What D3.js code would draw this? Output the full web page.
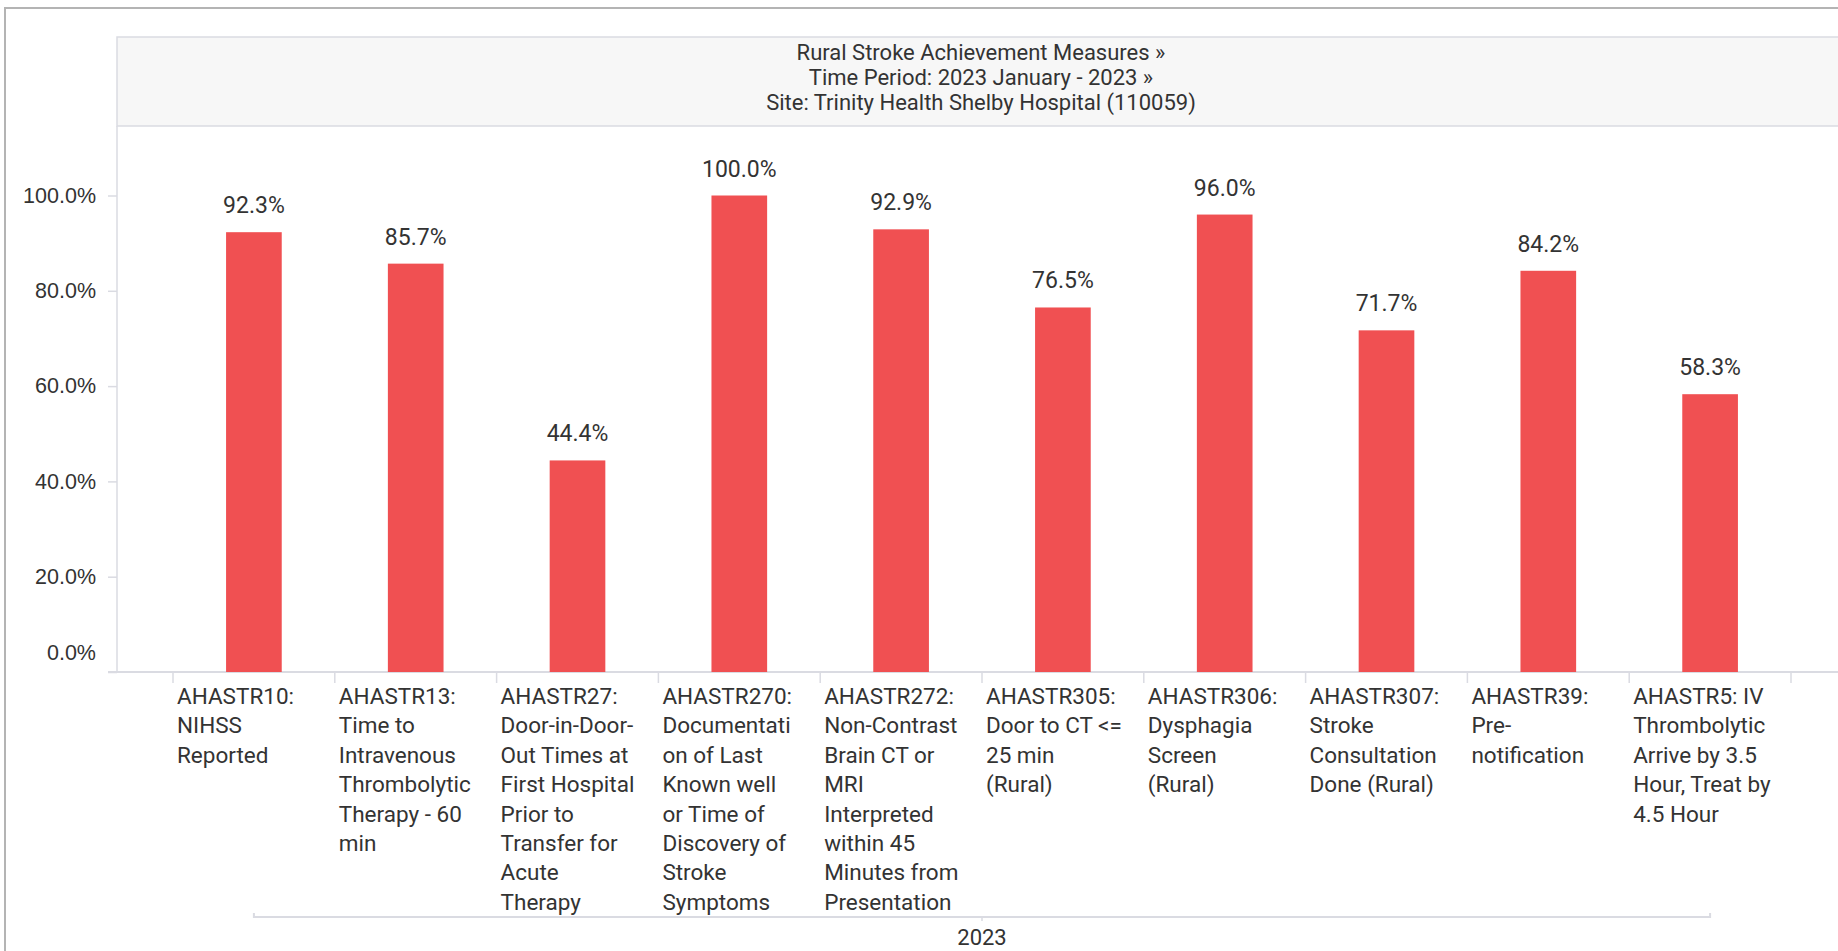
<!DOCTYPE html>
<html>
<head>
<meta charset="utf-8">
<script src="https://cdn.jsdelivr.net/npm/d3@7"></script>
<style>
  body { margin: 0; background: #fff; }
  svg { display: block; font-family: Roboto, "Noto Sans", sans-serif; }
</style>
</head>
<body>
<div id="chart"></div>
<script>
var categories = [
  "AHASTR10:\nNIHSS\nReported",
  "AHASTR13:\nTime to\nIntravenous\nThrombolytic\nTherapy - 60\nmin",
  "AHASTR27:\nDoor-in-Door-\nOut Times at\nFirst Hospital\nPrior to\nTransfer for\nAcute\nTherapy",
  "AHASTR270:\nDocumentati\non of Last\nKnown well\nor Time of\nDiscovery of\nStroke\nSymptoms",
  "AHASTR272:\nNon-Contrast\nBrain CT or\nMRI\nInterpreted\nwithin 45\nMinutes from\nPresentation",
  "AHASTR305:\nDoor to CT <=\n25 min\n(Rural)",
  "AHASTR306:\nDysphagia\nScreen\n(Rural)",
  "AHASTR307:\nStroke\nConsultation\nDone (Rural)",
  "AHASTR39:\nPre-\nnotification",
  "AHASTR5: IV\nThrombolytic\nArrive by 3.5\nHour, Treat by\n4.5 Hour"
];
var values = [92.3, 85.7, 44.4, 100.0, 92.9, 76.5, 96.0, 71.7, 84.2, 58.3];
var yTicks = [0, 20, 40, 60, 80, 100];
var titleLines = [
  "Rural Stroke Achievement Measures \u00bb",
  "Time Period: 2023 January - 2023 \u00bb",
  "Site: Trinity Health Shelby Hospital (110059)"
];
var groupLabel = "2023";

var W = 1838, H = 951;
var m = { left: 117, top: 126, right: 1847, bottom: 672 };
var axisColor = "#dadbe2", textColor = "#333";

var svg = d3.select("#chart").append("svg")
    .attr("width", W)
    .attr("height", H);

// outer panel frame
svg.append("rect")
  .attr("x", 5).attr("y", 8)
  .attr("width", 2000).attr("height", 1200)
  .attr("fill", "none")
  .attr("stroke", "#b4b4b4")
  .attr("stroke-width", 2);

// title box
svg.append("rect")
  .attr("x", m.left).attr("y", 37)
  .attr("width", m.right - m.left).attr("height", m.top - 37)
  .attr("fill", "#f7f7f7")
  .attr("stroke", axisColor)
  .attr("stroke-width", 1.5);

var cx = (m.left + m.right) / 2 - 1;
svg.selectAll("text.title").data(titleLines).enter().append("text")
  .attr("class", "title")
  .attr("x", cx)
  .attr("y", function(d, i) { return 60 + i * 25; })
  .attr("text-anchor", "middle")
  .attr("font-size", 22)
  .attr("fill", textColor)
  .text(function(d) { return d; });

var x = d3.scaleBand()
  .domain(d3.range(categories.length))
  .range([173, 1791])
  .paddingInner(0.656)
  .paddingOuter(0.328);

var y = d3.scaleLinear()
  .domain([0, 100])
  .range([m.bottom, 195.5]);

var step = x.step();
var x0 = x.range()[0];

// y axis
var yAxis = d3.axisLeft(y)
  .tickValues(yTicks)
  .tickSize(9)
  .tickPadding(12)
  .tickFormat(function(d) { return d3.format(".1f")(d) + "%"; });

var gy = svg.append("g")
  .attr("transform", "translate(" + m.left + ",0)")
  .call(yAxis);
gy.select(".domain").remove();
gy.selectAll("line").attr("stroke", axisColor).attr("stroke-width", 1.5);
gy.selectAll("text")
  .attr("font-size", 21.5)
  .attr("fill", textColor)
  .attr("font-family", null);
// zero label sits above the baseline
gy.selectAll(".tick").filter(function(d) { return d === 0; })
  .select("text").attr("dy", "-0.6em");

svg.append("line")
  .attr("x1", m.left).attr("x2", m.left)
  .attr("y1", m.top).attr("y2", m.bottom)
  .attr("stroke", axisColor).attr("stroke-width", 1.5);

svg.append("line")
  .attr("x1", 108).attr("x2", m.right)
  .attr("y1", m.bottom).attr("y2", m.bottom)
  .attr("stroke", axisColor).attr("stroke-width", 2);

// category separators
svg.selectAll("line.sep").data(d3.range(categories.length + 1)).enter().append("line")
  .attr("class", "sep")
  .attr("x1", function(i) { return x0 + i * step; })
  .attr("x2", function(i) { return x0 + i * step; })
  .attr("y1", m.bottom).attr("y2", m.bottom + 11)
  .attr("stroke", axisColor).attr("stroke-width", 1.5);

// bars
svg.selectAll("rect.bar").data(values).enter().append("rect")
  .attr("class", "bar")
  .attr("x", function(d, i) { return x(i); })
  .attr("y", function(d) { return y(d); })
  .attr("width", x.bandwidth())
  .attr("height", function(d) { return y(0) - y(d); })
  .attr("fill", "#f05052");

svg.selectAll("text.val").data(values).enter().append("text")
  .attr("class", "val")
  .attr("x", function(d, i) { return x(i) + x.bandwidth() / 2; })
  .attr("y", function(d) { return y(d) - 19; })
  .attr("text-anchor", "middle")
  .attr("font-size", 23)
  .attr("fill", textColor)
  .text(function(d) { return d3.format(".1f")(d) + "%"; });

// category labels, one tspan per line
var labels = svg.selectAll("text.cat").data(categories).enter().append("text")
  .attr("class", "cat")
  .attr("x", function(d, i) { return x0 + i * step + 4; })
  .attr("y", 704)
  .attr("font-size", 22.5)
  .attr("fill", textColor);

labels.selectAll("tspan").data(function(d, i) {
    return d.split("\n").map(function(s) { return { s: s, i: i }; });
  }).enter().append("tspan")
  .attr("x", function(d) { return x0 + d.i * step + 4; })
  .attr("dy", function(d, j) { return j === 0 ? 0 : 29.4; })
  .text(function(d) { return d.s; });

// group axis under the categories
var gx1 = x0 + step / 2, gx2 = x0 + (categories.length - 0.5) * step, gy0 = 917;
svg.append("path")
  .attr("d", "M" + gx1 + "," + (gy0 - 4) + "V" + gy0 + "H" + gx2 + "V" + (gy0 - 4))
  .attr("fill", "none")
  .attr("stroke", axisColor).attr("stroke-width", 2);
svg.append("line")
  .attr("x1", (gx1 + gx2) / 2).attr("x2", (gx1 + gx2) / 2)
  .attr("y1", gy0).attr("y2", gy0 + 4)
  .attr("stroke", axisColor).attr("stroke-width", 1.5);
svg.append("text")
  .attr("x", (gx1 + gx2) / 2)
  .attr("y", 945)
  .attr("text-anchor", "middle")
  .attr("font-size", 22)
  .attr("fill", textColor)
  .text(groupLabel);
</script>
</body>
</html>
